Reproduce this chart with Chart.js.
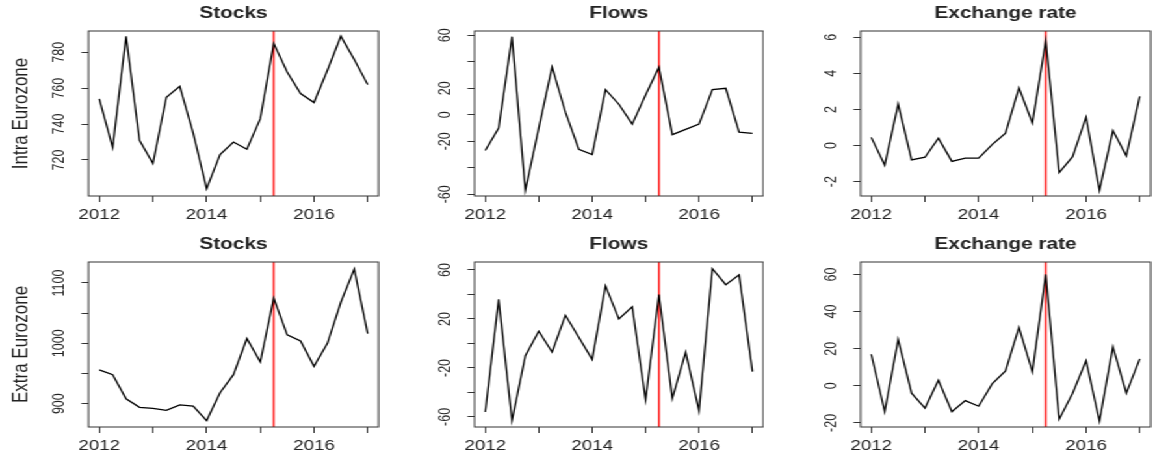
<!DOCTYPE html>
<html>
<head>
<meta charset="utf-8">
<title>Stocks, flows and exchange rate</title>
<script src="https://cdn.jsdelivr.net/npm/chart.js@4.4.1/dist/chart.umd.min.js"></script>
<style>
  html, body { margin: 0; padding: 0; background: #fff; }
  body { width: 1152px; height: 460px; overflow: hidden; position: relative; }
  /* the reference is an R plot stretched sideways, so draw narrow and stretch */
  #stretch { position: absolute; left: 0; top: 0; width: 886px; height: 460px; transform: scaleX(1.3); transform-origin: 0 0; }
  #stretch canvas { position: absolute; }
</style>
</head>
<body>
<div id="stretch"></div>
<script>
// ---- Data ----
const quarters = [2012, 2012.25, 2012.5, 2012.75, 2013, 2013.25, 2013.5, 2013.75,
                  2014, 2014.25, 2014.5, 2014.75, 2015, 2015.25, 2015.5, 2015.75,
                  2016, 2016.25, 2016.5, 2016.75, 2017];
const yearTicks = [2012, 2013, 2014, 2015, 2016, 2017];
const yearLabels = [2012, 2014, 2016];
const breakDate = 2015.25;

const intraStocks = [754, 727, 789, 731, 718, 755, 761, 735, 704, 723, 730, 726, 743, 785, 769, 757, 752, 770, 789, 776, 762];
const intraFlows = [-27, -10, 59, -57, -10, 36, 2, -26, -30, 19, 8, -7, 15, 36, -15, -11, -7, 19, 20, -13, -14];
const intraFx = [0.45, -1.1, 2.3, -0.8, -0.65, 0.4, -0.88, -0.7, -0.7, 0.05, 0.68, 3.2, 1.25, 5.8, -1.5, -0.62, 1.57, -2.48, 0.83, -0.57, 2.73];

const extraStocks = [956, 948, 908, 894, 892, 889, 898, 896, 872, 918, 948, 1008, 969, 1075, 1014, 1004, 962, 1000, 1068, 1123, 1016];
const extraFlows = [-56, 36, -63, -10, 10, -7, 23, 5, -13, 47, 20, 30, -46, 40, -45, -7, -55, 61, 48, 56, -23];
const extraFx = [17, -14, 25, -4, -12, 3, -14, -8, -11, 1, 8, 31.5, 7.5, 60, -18, -4, 13.5, -19, 21, -4, 14.5];

// y tick marks and which of them carry a label
const intraStocksTicks = [720, 740, 760, 780];
const intraStocksLabels = [720, 740, 760, 780];
const intraFlowsTicks = [-60, -40, -20, 0, 20, 40, 60];
const intraFlowsLabels = [-60, -20, 0, 20, 60];
const intraFxTicks = [-2, 0, 2, 4, 6];
const intraFxLabels = [-2, 0, 2, 4, 6];
const extraStocksTicks = [900, 950, 1000, 1050, 1100];
const extraStocksLabels = [900, 1000, 1100];
const extraFlowsTicks = [-60, -40, -20, 0, 20, 40, 60];
const extraFlowsLabels = [-60, -20, 20, 60];
const extraFxTicks = [-20, 0, 20, 40, 60];
const extraFxLabels = [-20, 0, 20, 40, 60];

// ---- Layout (unstretched px) ----
const INK = '#222';
const FONT = '"Liberation Sans", Arial, sans-serif';
const AXIS_W = 67;
const rows = [
  { top: 0, pad: 31, bottom: 196 },
  { top: 230, pad: 32, bottom: 197 }
];

const panels = [
  { title: 'Stocks', ylab: 'Intra Eurozone', values: intraStocks, ticks: intraStocksTicks, labels: intraStocksLabels, range: [699.9, 791.9], box: [68, 291], row: 0 },
  { title: 'Flows', values: intraFlows, ticks: intraFlowsTicks, labels: intraFlowsLabels, range: [-61.3, 63.3], box: [365, 587], row: 0 },
  { title: 'Exchange rate', values: intraFx, ticks: intraFxTicks, labels: intraFxLabels, range: [-2.8, 6.35], box: [662, 885], row: 0 },
  { title: 'Stocks', ylab: 'Extra Eurozone', values: extraStocks, ticks: extraStocksTicks, labels: extraStocksLabels, range: [861.3, 1134.8], box: [68, 291], row: 1 },
  { title: 'Flows', values: extraFlows, ticks: extraFlowsTicks, labels: extraFlowsLabels, range: [-68.2, 66.5], box: [365, 587], row: 1 },
  { title: 'Exchange rate', values: extraFx, ticks: extraFxTicks, labels: extraFxLabels, range: [-22.2, 66.7], box: [662, 885], row: 1 }
];

// ---- R-style decorations: break line, box, title, rotated labels ----
function makeDecor(p) {
  return {
    id: 'rDecor',
    beforeDatasetsDraw(chart) {
      const { ctx, chartArea: a, scales: { x } } = chart;
      const px = x.getPixelForValue(breakDate);
      ctx.save();
      ctx.strokeStyle = '#ff1a1a';
      ctx.lineWidth = 1.5;
      ctx.beginPath();
      ctx.moveTo(px, a.top);
      ctx.lineTo(px, a.bottom);
      ctx.stroke();
      ctx.restore();
    },
    afterDatasetsDraw(chart) {
      const { ctx, chartArea: a } = chart;
      ctx.save();
      ctx.strokeStyle = '#333';
      ctx.lineWidth = 1;
      ctx.strokeRect(a.left, a.top, a.right - a.left, a.bottom - a.top);
      ctx.restore();
    },
    afterDraw(chart) {
      const { ctx, chartArea: a, scales: { y } } = chart;
      ctx.save();
      ctx.fillStyle = INK;

      // title
      ctx.font = 'bold 16px ' + FONT;
      ctx.textAlign = 'center';
      ctx.textBaseline = 'alphabetic';
      ctx.fillText(p.title, (a.left + a.right) / 2, a.top - 13);

      // y tick labels, parallel to the axis
      ctx.font = '12.5px ' + FONT;
      p.labels.forEach(v => {
        ctx.save();
        ctx.translate(a.left - 19.5, y.getPixelForValue(v));
        ctx.rotate(-Math.PI / 2);
        ctx.fillText(String(v), 0, 0);
        ctx.restore();
      });

      // row label
      if (p.ylab) {
        ctx.font = '17px ' + FONT;
        ctx.translate(a.left - 47, (a.top + a.bottom) / 2);
        ctx.rotate(-Math.PI / 2);
        ctx.fillText(p.ylab, 0, 0);
      }
      ctx.restore();
    }
  };
}

// ---- Charts ----
function makePanel(p) {
  const row = rows[p.row];
  const w = p.box[1] - p.box[0] + AXIS_W + 1;
  const h = 230;
  const canvas = document.createElement('canvas');
  canvas.width = w;
  canvas.height = h;
  canvas.style.left = (p.box[0] - AXIS_W) + 'px';
  canvas.style.top = row.top + 'px';
  canvas.style.width = w + 'px';
  canvas.style.height = h + 'px';
  document.getElementById('stretch').appendChild(canvas);

  new Chart(canvas, {
    type: 'line',
    data: {
      datasets: [{
        data: quarters.map((q, i) => ({ x: q, y: p.values[i] })),
        borderColor: '#000',
        borderWidth: 1.3,
        pointRadius: 0,
        tension: 0,
        fill: false
      }]
    },
    options: {
      responsive: false,
      animation: false,
      events: [],
      layout: { padding: { left: 0, right: 1, top: row.pad, bottom: 0 } },
      plugins: { legend: { display: false }, tooltip: { enabled: false } },
      scales: {
        x: {
          type: 'linear',
          min: 2011.8,
          max: 2017.2,
          afterBuildTicks: s => { s.ticks = yearTicks.map(v => ({ value: v })); },
          afterFit: s => { s.height = h - row.bottom; },
          grid: { drawOnChartArea: false, drawTicks: true, tickLength: 6, color: '#333', lineWidth: 1 },
          border: { display: false },
          ticks: {
            autoSkip: false,
            maxRotation: 0,
            padding: 4,
            color: INK,
            font: { family: FONT, size: 14.4 },
            callback: v => yearLabels.includes(v) ? String(v) : ''
          }
        },
        y: {
          type: 'linear',
          min: p.range[0],
          max: p.range[1],
          afterBuildTicks: s => { s.ticks = p.ticks.map(v => ({ value: v })); },
          afterFit: s => { s.width = AXIS_W; },
          grid: { drawOnChartArea: false, drawTicks: true, tickLength: 5.5, color: '#333', lineWidth: 1 },
          border: { display: false },
          ticks: { display: false }
        }
      }
    },
    plugins: [makeDecor(p)]
  });
}

panels.forEach(makePanel);
</script>
</body>
</html>
